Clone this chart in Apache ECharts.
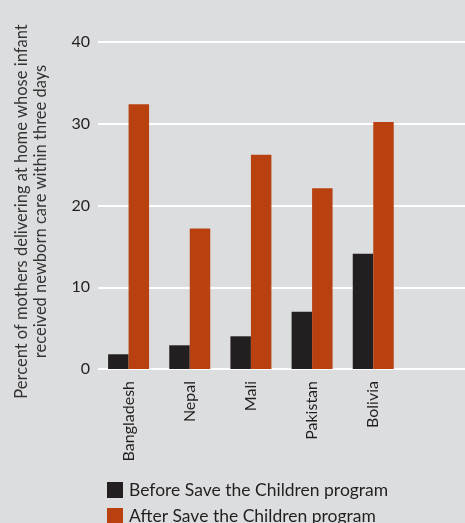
<!DOCTYPE html>
<html>
<head>
<meta charset="utf-8">
<script src="https://cdn.jsdelivr.net/npm/echarts@6/dist/echarts.min.js"></script>
<style>
html,body{margin:0;padding:0;background:#dcdddf;}
#chart{width:465px;height:523px;}
</style>
</head>
<body>
<div id="chart"></div>
<script>
var categories = ['Bangladesh', 'Nepal', 'Mali', 'Pakistan', 'Bolivia', ''];
var beforeValues = [1.8, 2.9, 4.0, 7.0, 14.1, null];
var afterValues = [32.4, 17.2, 26.2, 22.1, 30.2, null];
var yTicks = [0, 10, 20, 30, 40];
var seriesNames = ['Before Save the Children program', 'After Save the Children program'];

var font = 'Lato, "DejaVu Sans", sans-serif';
var chart = echarts.init(document.getElementById('chart'));
chart.setOption({
  backgroundColor: '#dcdddf',
  animation: false,
  grid: { left: 98, right: -17, top: 42, bottom: 154, containLabel: false },
  legend: {
    orient: 'vertical',
    left: 107,
    top: 481,
    height: 60,
    padding: 0,
    itemWidth: 16,
    itemHeight: 16,
    itemGap: 8,
    icon: 'rect',
    data: seriesNames,
    textStyle: { fontFamily: font, fontSize: 17.5, lineHeight: 16, color: '#231f20', padding: [0, 0, 0, 1] }
  },
  xAxis: {
    type: 'category',
    data: categories,
    axisLine: { show: false },
    axisTick: { show: false },
    axisLabel: {
      rotate: 90,
      fontFamily: font,
      fontSize: 16,
      color: '#231f20',
      margin: 12
    }
  },
  yAxis: {
    type: 'value',
    min: yTicks[0],
    max: yTicks[yTicks.length - 1],
    interval: 10,
    name: 'Percent of mothers delivering at home whose infant\nreceived newborn care within three days',
    nameLocation: 'middle',
    nameGap: 48,
    nameTextStyle: { fontFamily: font, fontSize: 16.5, color: '#333', lineHeight: 19, padding: [0, 12, 0, 0] },
    axisLine: { show: false },
    axisTick: { show: false },
    axisLabel: { fontFamily: font, fontSize: 16, color: '#231f20', margin: 8 },
    splitLine: { show: true, lineStyle: { color: '#ffffff', width: 2 } }
  },
  series: [
    {
      name: seriesNames[0],
      type: 'bar',
      data: beforeValues,
      barGap: '0%',
      barCategoryGap: '33%',
      itemStyle: { color: '#231f20' }
    },
    {
      name: seriesNames[1],
      type: 'bar',
      data: afterValues,
      itemStyle: { color: '#b94110' }
    }
  ]
});
</script>
</body>
</html>
